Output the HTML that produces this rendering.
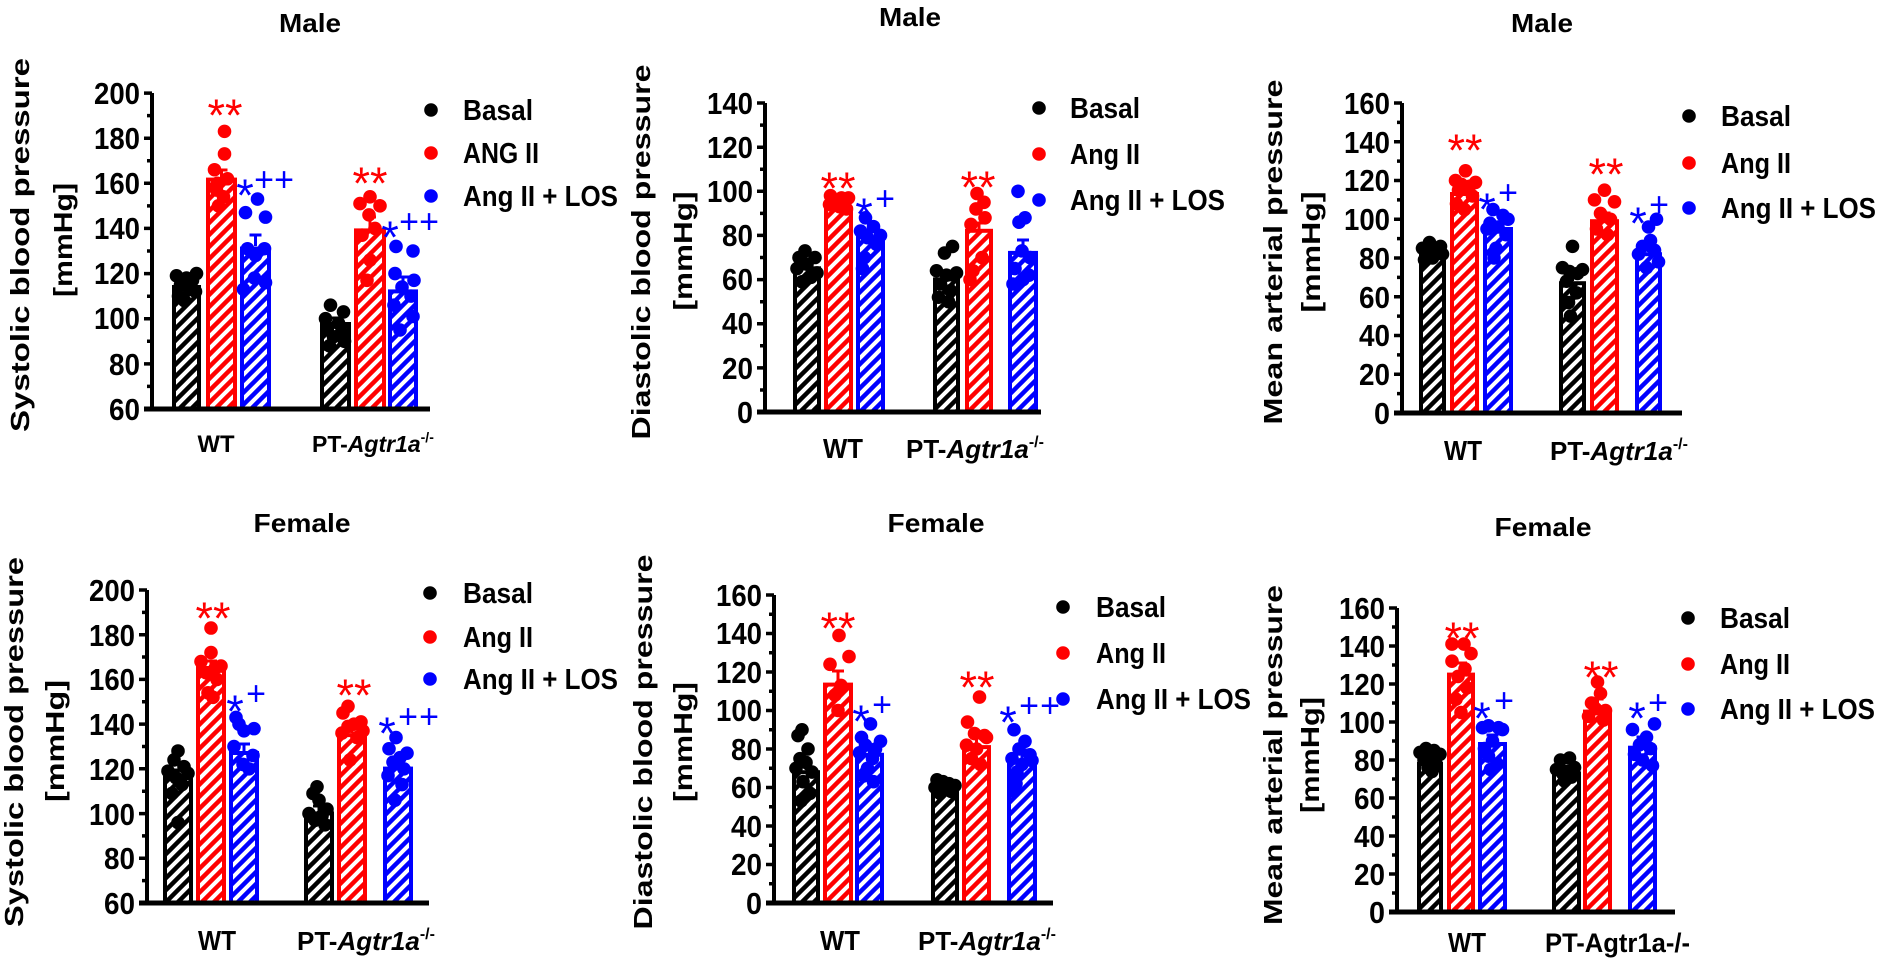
<!DOCTYPE html>
<html><head><meta charset="utf-8"><style>
html,body{margin:0;padding:0;background:#fff;}
svg{display:block;}
text{font-family:"Liberation Sans",Arial,sans-serif;font-weight:bold;fill:#000;}
.tk{font-size:31px;text-anchor:end;}
.lg{font-size:29px;}
.yl{font-size:26px;text-anchor:middle;}
.tt{font-size:26px;text-anchor:middle;}
.xl{font-size:26px;}
.st{font-size:45px;font-weight:normal;text-anchor:middle;}
.pl{font-size:34px;font-weight:normal;text-anchor:middle;}
</style></head><body>
<svg width="1900" height="963" viewBox="0 0 1900 963" xmlns="http://www.w3.org/2000/svg">
<defs>
<pattern id="hk" patternUnits="userSpaceOnUse" width="12" height="12"><rect width="12" height="12" fill="#fff"/><path d="M-3,3 L3,-3 M0,12 L12,0 M9,15 L15,9" stroke="#000" stroke-width="4.5"/></pattern>
<pattern id="hr" patternUnits="userSpaceOnUse" width="12" height="12"><rect width="12" height="12" fill="#fff"/><path d="M-3,3 L3,-3 M0,12 L12,0 M9,15 L15,9" stroke="#ff0000" stroke-width="4.5"/></pattern>
<pattern id="hb" patternUnits="userSpaceOnUse" width="12" height="12"><rect width="12" height="12" fill="#fff"/><path d="M-3,3 L3,-3 M0,12 L12,0 M9,15 L15,9" stroke="#0000ff" stroke-width="4.5"/></pattern>
</defs>

<!-- ================= BARS ================= -->
<g stroke-width="4">
<rect x="174" y="287" width="25" height="122" fill="url(#hk)" stroke="#000"/>
<rect x="208" y="179.6" width="27" height="229.4" fill="url(#hr)" stroke="#ff0000"/>
<rect x="242" y="248.5" width="27" height="160.5" fill="url(#hb)" stroke="#0000ff"/>
<rect x="322" y="324" width="27" height="85" fill="url(#hk)" stroke="#000"/>
<rect x="356" y="230.4" width="28" height="178.6" fill="url(#hr)" stroke="#ff0000"/>
<rect x="390" y="291.4" width="26" height="117.6" fill="url(#hb)" stroke="#0000ff"/>
<rect x="795" y="268.3" width="24" height="143.7" fill="url(#hk)" stroke="#000"/>
<rect x="826" y="208.7" width="25" height="203.3" fill="url(#hr)" stroke="#ff0000"/>
<rect x="858" y="237.4" width="25" height="174.6" fill="url(#hb)" stroke="#0000ff"/>
<rect x="935" y="279.4" width="23" height="132.6" fill="url(#hk)" stroke="#000"/>
<rect x="967" y="230.8" width="24" height="181.2" fill="url(#hr)" stroke="#ff0000"/>
<rect x="1010" y="252.9" width="26" height="159.1" fill="url(#hb)" stroke="#0000ff"/>
<rect x="1421" y="254.2" width="23" height="158.8" fill="url(#hk)" stroke="#000"/>
<rect x="1452" y="194" width="25" height="219" fill="url(#hr)" stroke="#ff0000"/>
<rect x="1485" y="229" width="26" height="184" fill="url(#hb)" stroke="#0000ff"/>
<rect x="1561" y="283.2" width="23" height="129.8" fill="url(#hk)" stroke="#000"/>
<rect x="1592" y="221.2" width="25" height="191.8" fill="url(#hr)" stroke="#ff0000"/>
<rect x="1637" y="254.2" width="23" height="158.8" fill="url(#hb)" stroke="#0000ff"/>
<rect x="165" y="777.6" width="26" height="125.4" fill="url(#hk)" stroke="#000"/>
<rect x="198" y="668" width="26" height="235" fill="url(#hr)" stroke="#ff0000"/>
<rect x="231" y="753" width="26" height="150" fill="url(#hb)" stroke="#0000ff"/>
<rect x="306" y="813.4" width="26" height="89.6" fill="url(#hk)" stroke="#000"/>
<rect x="339" y="735.1" width="26" height="167.9" fill="url(#hr)" stroke="#ff0000"/>
<rect x="385" y="768.6" width="26" height="134.4" fill="url(#hb)" stroke="#0000ff"/>
<rect x="794" y="772.2" width="24" height="130.8" fill="url(#hk)" stroke="#000"/>
<rect x="825" y="684.6" width="26" height="218.4" fill="url(#hr)" stroke="#ff0000"/>
<rect x="857" y="754.8" width="25" height="148.2" fill="url(#hb)" stroke="#0000ff"/>
<rect x="933" y="791.4" width="24" height="111.6" fill="url(#hk)" stroke="#000"/>
<rect x="964" y="747.1" width="25" height="155.9" fill="url(#hr)" stroke="#ff0000"/>
<rect x="1009" y="760.6" width="26" height="142.4" fill="url(#hb)" stroke="#0000ff"/>
<rect x="1419" y="763.9" width="22" height="148.1" fill="url(#hk)" stroke="#000"/>
<rect x="1449" y="674.6" width="24" height="237.4" fill="url(#hr)" stroke="#ff0000"/>
<rect x="1480" y="744" width="25" height="168" fill="url(#hb)" stroke="#0000ff"/>
<rect x="1554" y="773.4" width="25" height="138.6" fill="url(#hk)" stroke="#000"/>
<rect x="1585" y="711.6" width="25" height="200.4" fill="url(#hr)" stroke="#ff0000"/>
<rect x="1630" y="747.7" width="25" height="164.3" fill="url(#hb)" stroke="#0000ff"/>
</g>

<!-- ================= ERROR BARS ================= -->
<g fill="none" stroke-width="3">
<path stroke="#000" d="M186.5,285V281M180.5,281H192.5 M335.5,322V318M329.5,318H341.5 M807,266V264M801,264H813 M946.5,277V272M940.5,272H952.5 M1432.5,252V249M1426.5,249H1438.5 M1572.5,281V276M1566.5,276H1578.5 M178,776V770M172,770H184 M319,811V806M313,806H325 M806,770V763M800,763H812 M945,789V786M939,786H951 M1430,762V757M1424,757H1436 M1566.5,771V767M1560.5,767H1572.5"/>
<path stroke="#ff0000" d="M221.5,178V170M215.5,170H227.5 M370,228V217M364,217H376 M838.5,207V205M832.5,205H844.5 M979,229V223M973,223H985 M1464.5,192V185M1458.5,185H1470.5 M1604.5,219V213M1598.5,213H1610.5 M211,666V661M205,661H217 M352,733V727M346,727H358 M838,683V671M832,671H844 M976.5,745V738M970.5,738H982.5 M1461,673V663M1455,663H1467 M1597.5,710V699M1591.5,699H1603.5"/>
<path stroke="#0000ff" d="M255.5,246V235M249.5,235H261.5 M403,289V277M397,277H409 M870.5,235V230M864.5,230H876.5 M1023,251V240M1017,240H1029 M1498,227V222M1492,222H1504 M1648.5,252V246M1642.5,246H1654.5 M244,751V744M238,744H250 M398,767V760M392,760H404 M869.5,753V745M863.5,745H875.5 M1022,759V750M1016,750H1028 M1492.5,742V735M1486.5,735H1498.5 M1642.5,746V737M1636.5,737H1648.5"/>
</g>

<!-- ================= DOTS ================= -->
<g transform="matrix(1 0 0 -2.257 0 544.4)">
<g fill="#000">
<ellipse cx="176.5" cy="119" rx="6.8" ry="3.01"/><ellipse cx="196.5" cy="120" rx="6.8" ry="3.01"/><ellipse cx="186.5" cy="118" rx="6.8" ry="3.01"/><ellipse cx="192.5" cy="117" rx="6.8" ry="3.01"/><ellipse cx="180.5" cy="115" rx="6.8" ry="3.01"/><ellipse cx="189.5" cy="113" rx="6.8" ry="3.01"/><ellipse cx="178.5" cy="110" rx="6.8" ry="3.01"/><ellipse cx="184.5" cy="108" rx="6.8" ry="3.01"/><ellipse cx="195.5" cy="112" rx="6.8" ry="3.01"/>
<ellipse cx="330.5" cy="106" rx="6.8" ry="3.01"/><ellipse cx="343.5" cy="103" rx="6.8" ry="3.01"/><ellipse cx="325.5" cy="100" rx="6.8" ry="3.01"/><ellipse cx="338.5" cy="98" rx="6.8" ry="3.01"/><ellipse cx="327.5" cy="96" rx="6.8" ry="3.01"/><ellipse cx="341.5" cy="94" rx="6.8" ry="3.01"/><ellipse cx="333.5" cy="92" rx="6.8" ry="3.01"/><ellipse cx="344.5" cy="90" rx="6.8" ry="3.01"/><ellipse cx="329.5" cy="88" rx="6.8" ry="3.01"/>
</g>
<g fill="#ff0000">
<ellipse cx="224.5" cy="183" rx="6.8" ry="3.01"/><ellipse cx="224.5" cy="173" rx="6.8" ry="3.01"/><ellipse cx="214.5" cy="166" rx="6.8" ry="3.01"/><ellipse cx="227.5" cy="162" rx="6.8" ry="3.01"/><ellipse cx="217.5" cy="160" rx="6.8" ry="3.01"/><ellipse cx="216.5" cy="157" rx="6.8" ry="3.01"/><ellipse cx="223.5" cy="154" rx="6.8" ry="3.01"/><ellipse cx="218.5" cy="150" rx="6.8" ry="3.01"/>
<ellipse cx="370" cy="154" rx="6.8" ry="3.01"/><ellipse cx="360" cy="151" rx="6.8" ry="3.01"/><ellipse cx="380" cy="150" rx="6.8" ry="3.01"/><ellipse cx="369" cy="146" rx="6.8" ry="3.01"/><ellipse cx="375" cy="140" rx="6.8" ry="3.01"/><ellipse cx="362" cy="137" rx="6.8" ry="3.01"/><ellipse cx="370" cy="126" rx="6.8" ry="3.01"/><ellipse cx="367" cy="117" rx="6.8" ry="3.01"/>
</g>
<g fill="#0000ff">
<ellipse cx="257.5" cy="153" rx="6.8" ry="3.01"/><ellipse cx="245.5" cy="147" rx="6.8" ry="3.01"/><ellipse cx="265.5" cy="145" rx="6.8" ry="3.01"/><ellipse cx="247.5" cy="131" rx="6.8" ry="3.01"/><ellipse cx="264.5" cy="131" rx="6.8" ry="3.01"/><ellipse cx="255.5" cy="128" rx="6.8" ry="3.01"/><ellipse cx="254.5" cy="118" rx="6.8" ry="3.01"/><ellipse cx="265.5" cy="116" rx="6.8" ry="3.01"/><ellipse cx="243.5" cy="113" rx="6.8" ry="3.01"/>
<ellipse cx="396" cy="132" rx="6.8" ry="3.01"/><ellipse cx="413" cy="130" rx="6.8" ry="3.01"/><ellipse cx="395" cy="120" rx="6.8" ry="3.01"/><ellipse cx="414" cy="117" rx="6.8" ry="3.01"/><ellipse cx="402" cy="114" rx="6.8" ry="3.01"/><ellipse cx="411" cy="110" rx="6.8" ry="3.01"/><ellipse cx="394" cy="106" rx="6.8" ry="3.01"/><ellipse cx="413" cy="101" rx="6.8" ry="3.01"/><ellipse cx="400" cy="95" rx="6.8" ry="3.01"/>
</g>
</g>
<g transform="matrix(1 0 0 -2.207 0 412)">
<g fill="#000">
<ellipse cx="805" cy="73" rx="6.8" ry="3.08"/><ellipse cx="799" cy="70" rx="6.8" ry="3.08"/><ellipse cx="815" cy="70" rx="6.8" ry="3.08"/><ellipse cx="807" cy="67" rx="6.8" ry="3.08"/><ellipse cx="797" cy="65" rx="6.8" ry="3.08"/><ellipse cx="817" cy="63" rx="6.8" ry="3.08"/><ellipse cx="802" cy="59" rx="6.8" ry="3.08"/><ellipse cx="811" cy="61" rx="6.8" ry="3.08"/>
<ellipse cx="952.5" cy="75" rx="6.8" ry="3.08"/><ellipse cx="944.5" cy="72" rx="6.8" ry="3.08"/><ellipse cx="936.5" cy="64" rx="6.8" ry="3.08"/><ellipse cx="956.5" cy="63" rx="6.8" ry="3.08"/><ellipse cx="946.5" cy="62" rx="6.8" ry="3.08"/><ellipse cx="940.5" cy="58" rx="6.8" ry="3.08"/><ellipse cx="950.5" cy="55" rx="6.8" ry="3.08"/><ellipse cx="938.5" cy="52" rx="6.8" ry="3.08"/><ellipse cx="948.5" cy="50" rx="6.8" ry="3.08"/>
</g>
<g fill="#ff0000">
<ellipse cx="830.5" cy="98" rx="6.8" ry="3.08"/><ellipse cx="841.5" cy="97" rx="6.8" ry="3.08"/><ellipse cx="848.5" cy="97" rx="6.8" ry="3.08"/><ellipse cx="835.5" cy="96" rx="6.8" ry="3.08"/><ellipse cx="844.5" cy="95" rx="6.8" ry="3.08"/><ellipse cx="829.5" cy="94" rx="6.8" ry="3.08"/><ellipse cx="839.5" cy="93" rx="6.8" ry="3.08"/><ellipse cx="846.5" cy="92" rx="6.8" ry="3.08"/>
<ellipse cx="977" cy="99" rx="6.8" ry="3.08"/><ellipse cx="984" cy="95" rx="6.8" ry="3.08"/><ellipse cx="976" cy="92" rx="6.8" ry="3.08"/><ellipse cx="985" cy="88" rx="6.8" ry="3.08"/><ellipse cx="971" cy="85" rx="6.8" ry="3.08"/><ellipse cx="982" cy="70" rx="6.8" ry="3.08"/><ellipse cx="973" cy="64" rx="6.8" ry="3.08"/><ellipse cx="970" cy="60" rx="6.8" ry="3.08"/>
</g>
<g fill="#0000ff">
<ellipse cx="865.5" cy="88" rx="6.8" ry="3.08"/><ellipse cx="873.5" cy="84" rx="6.8" ry="3.08"/><ellipse cx="860.5" cy="82" rx="6.8" ry="3.08"/><ellipse cx="880.5" cy="80" rx="6.8" ry="3.08"/><ellipse cx="867.5" cy="79" rx="6.8" ry="3.08"/><ellipse cx="876.5" cy="76" rx="6.8" ry="3.08"/><ellipse cx="864.5" cy="70" rx="6.8" ry="3.08"/><ellipse cx="862.5" cy="65" rx="6.8" ry="3.08"/>
<ellipse cx="1018" cy="100" rx="6.8" ry="3.08"/><ellipse cx="1025" cy="88" rx="6.8" ry="3.08"/><ellipse cx="1019" cy="86" rx="6.8" ry="3.08"/><ellipse cx="1022" cy="73" rx="6.8" ry="3.08"/><ellipse cx="1030" cy="70" rx="6.8" ry="3.08"/><ellipse cx="1015" cy="65" rx="6.8" ry="3.08"/><ellipse cx="1029" cy="62" rx="6.8" ry="3.08"/><ellipse cx="1023" cy="60" rx="6.8" ry="3.08"/><ellipse cx="1013" cy="58" rx="6.8" ry="3.08"/>
</g>
</g>
<g transform="matrix(1 0 0 -1.9375 0 413)">
<g fill="#000">
<ellipse cx="1429.5" cy="88" rx="6.8" ry="3.51"/><ellipse cx="1440.5" cy="86" rx="6.8" ry="3.51"/><ellipse cx="1422.5" cy="85" rx="6.8" ry="3.51"/><ellipse cx="1436.5" cy="84" rx="6.8" ry="3.51"/><ellipse cx="1426.5" cy="83" rx="6.8" ry="3.51"/><ellipse cx="1442.5" cy="82" rx="6.8" ry="3.51"/><ellipse cx="1432.5" cy="80" rx="6.8" ry="3.51"/><ellipse cx="1424.5" cy="79" rx="6.8" ry="3.51"/>
<ellipse cx="1572.5" cy="86" rx="6.8" ry="3.51"/><ellipse cx="1562.5" cy="75" rx="6.8" ry="3.51"/><ellipse cx="1582.5" cy="74" rx="6.8" ry="3.51"/><ellipse cx="1569.5" cy="73" rx="6.8" ry="3.51"/><ellipse cx="1577.5" cy="72" rx="6.8" ry="3.51"/><ellipse cx="1566.5" cy="68" rx="6.8" ry="3.51"/><ellipse cx="1576.5" cy="62" rx="6.8" ry="3.51"/><ellipse cx="1568.5" cy="57" rx="6.8" ry="3.51"/><ellipse cx="1570.5" cy="50" rx="6.8" ry="3.51"/>
</g>
<g fill="#ff0000">
<ellipse cx="1465.5" cy="125" rx="6.8" ry="3.51"/><ellipse cx="1455.5" cy="120" rx="6.8" ry="3.51"/><ellipse cx="1475.5" cy="119" rx="6.8" ry="3.51"/><ellipse cx="1461.5" cy="118" rx="6.8" ry="3.51"/><ellipse cx="1469.5" cy="117" rx="6.8" ry="3.51"/><ellipse cx="1458.5" cy="115" rx="6.8" ry="3.51"/><ellipse cx="1472.5" cy="112" rx="6.8" ry="3.51"/><ellipse cx="1456.5" cy="108" rx="6.8" ry="3.51"/><ellipse cx="1464.5" cy="105" rx="6.8" ry="3.51"/>
<ellipse cx="1604.5" cy="115" rx="6.8" ry="3.51"/><ellipse cx="1594.5" cy="110" rx="6.8" ry="3.51"/><ellipse cx="1614.5" cy="109" rx="6.8" ry="3.51"/><ellipse cx="1600.5" cy="103" rx="6.8" ry="3.51"/><ellipse cx="1610.5" cy="100" rx="6.8" ry="3.51"/><ellipse cx="1596.5" cy="95" rx="6.8" ry="3.51"/><ellipse cx="1607.5" cy="92" rx="6.8" ry="3.51"/>
</g>
<g fill="#0000ff">
<ellipse cx="1493" cy="105" rx="6.8" ry="3.51"/><ellipse cx="1503" cy="102" rx="6.8" ry="3.51"/><ellipse cx="1508" cy="100" rx="6.8" ry="3.51"/><ellipse cx="1490" cy="98" rx="6.8" ry="3.51"/><ellipse cx="1498" cy="96" rx="6.8" ry="3.51"/><ellipse cx="1487" cy="95" rx="6.8" ry="3.51"/><ellipse cx="1506" cy="92" rx="6.8" ry="3.51"/><ellipse cx="1496" cy="85" rx="6.8" ry="3.51"/><ellipse cx="1494" cy="80" rx="6.8" ry="3.51"/>
<ellipse cx="1656.5" cy="100" rx="6.8" ry="3.51"/><ellipse cx="1648.5" cy="96" rx="6.8" ry="3.51"/><ellipse cx="1650.5" cy="89" rx="6.8" ry="3.51"/><ellipse cx="1642.5" cy="86" rx="6.8" ry="3.51"/><ellipse cx="1654.5" cy="84" rx="6.8" ry="3.51"/><ellipse cx="1638.5" cy="82" rx="6.8" ry="3.51"/><ellipse cx="1658.5" cy="78" rx="6.8" ry="3.51"/><ellipse cx="1646.5" cy="75" rx="6.8" ry="3.51"/>
</g>
</g>
<g transform="matrix(1 0 0 -2.236 0 1037.2)">
<g fill="#000">
<ellipse cx="178" cy="128" rx="6.8" ry="3.04"/><ellipse cx="174" cy="124" rx="6.8" ry="3.04"/><ellipse cx="184" cy="121" rx="6.8" ry="3.04"/><ellipse cx="168" cy="119" rx="6.8" ry="3.04"/><ellipse cx="188" cy="118" rx="6.8" ry="3.04"/><ellipse cx="176" cy="116" rx="6.8" ry="3.04"/><ellipse cx="182" cy="113" rx="6.8" ry="3.04"/><ellipse cx="172" cy="109" rx="6.8" ry="3.04"/><ellipse cx="178" cy="96" rx="6.8" ry="3.04"/>
<ellipse cx="317" cy="112" rx="6.8" ry="3.04"/><ellipse cx="313" cy="109" rx="6.8" ry="3.04"/><ellipse cx="319" cy="106" rx="6.8" ry="3.04"/><ellipse cx="327" cy="102" rx="6.8" ry="3.04"/><ellipse cx="309" cy="100" rx="6.8" ry="3.04"/><ellipse cx="322" cy="99" rx="6.8" ry="3.04"/><ellipse cx="315" cy="97" rx="6.8" ry="3.04"/><ellipse cx="325" cy="95" rx="6.8" ry="3.04"/>
</g>
<g fill="#ff0000">
<ellipse cx="211" cy="183" rx="6.8" ry="3.04"/><ellipse cx="211" cy="172" rx="6.8" ry="3.04"/><ellipse cx="201" cy="168" rx="6.8" ry="3.04"/><ellipse cx="221" cy="166" rx="6.8" ry="3.04"/><ellipse cx="215" cy="165" rx="6.8" ry="3.04"/><ellipse cx="206" cy="163" rx="6.8" ry="3.04"/><ellipse cx="217" cy="160" rx="6.8" ry="3.04"/><ellipse cx="208" cy="154" rx="6.8" ry="3.04"/><ellipse cx="213" cy="152" rx="6.8" ry="3.04"/>
<ellipse cx="348" cy="148" rx="6.8" ry="3.04"/><ellipse cx="343" cy="145" rx="6.8" ry="3.04"/><ellipse cx="361" cy="141" rx="6.8" ry="3.04"/><ellipse cx="354" cy="140" rx="6.8" ry="3.04"/><ellipse cx="348" cy="139" rx="6.8" ry="3.04"/><ellipse cx="363" cy="137" rx="6.8" ry="3.04"/><ellipse cx="342" cy="136" rx="6.8" ry="3.04"/><ellipse cx="357" cy="134" rx="6.8" ry="3.04"/><ellipse cx="350" cy="124" rx="6.8" ry="3.04"/>
</g>
<g fill="#0000ff">
<ellipse cx="236" cy="143" rx="6.8" ry="3.04"/><ellipse cx="239" cy="140" rx="6.8" ry="3.04"/><ellipse cx="254" cy="138" rx="6.8" ry="3.04"/><ellipse cx="244" cy="137" rx="6.8" ry="3.04"/><ellipse cx="234" cy="130" rx="6.8" ry="3.04"/><ellipse cx="253" cy="126" rx="6.8" ry="3.04"/><ellipse cx="243" cy="122" rx="6.8" ry="3.04"/><ellipse cx="249" cy="120" rx="6.8" ry="3.04"/>
<ellipse cx="396" cy="134" rx="6.8" ry="3.04"/><ellipse cx="389" cy="129" rx="6.8" ry="3.04"/><ellipse cx="407" cy="127" rx="6.8" ry="3.04"/><ellipse cx="400" cy="125" rx="6.8" ry="3.04"/><ellipse cx="393" cy="123" rx="6.8" ry="3.04"/><ellipse cx="404" cy="120" rx="6.8" ry="3.04"/><ellipse cx="388" cy="117" rx="6.8" ry="3.04"/><ellipse cx="402" cy="113" rx="6.8" ry="3.04"/><ellipse cx="395" cy="106" rx="6.8" ry="3.04"/>
</g>
</g>
<g transform="matrix(1 0 0 -1.925 0 903)">
<g fill="#000">
<ellipse cx="802" cy="90" rx="6.8" ry="3.53"/><ellipse cx="798" cy="87" rx="6.8" ry="3.53"/><ellipse cx="808" cy="80" rx="6.8" ry="3.53"/><ellipse cx="800" cy="75" rx="6.8" ry="3.53"/><ellipse cx="806" cy="73" rx="6.8" ry="3.53"/><ellipse cx="796" cy="70" rx="6.8" ry="3.53"/><ellipse cx="812" cy="68" rx="6.8" ry="3.53"/><ellipse cx="803" cy="63" rx="6.8" ry="3.53"/><ellipse cx="810" cy="57" rx="6.8" ry="3.53"/><ellipse cx="801" cy="53" rx="6.8" ry="3.53"/>
<ellipse cx="937" cy="64" rx="6.8" ry="3.53"/><ellipse cx="943" cy="63" rx="6.8" ry="3.53"/><ellipse cx="949" cy="62" rx="6.8" ry="3.53"/><ellipse cx="955" cy="61" rx="6.8" ry="3.53"/><ellipse cx="935" cy="60" rx="6.8" ry="3.53"/><ellipse cx="945" cy="59" rx="6.8" ry="3.53"/><ellipse cx="951" cy="58" rx="6.8" ry="3.53"/><ellipse cx="940" cy="57" rx="6.8" ry="3.53"/>
</g>
<g fill="#ff0000">
<ellipse cx="839" cy="139" rx="6.8" ry="3.53"/><ellipse cx="849" cy="128" rx="6.8" ry="3.53"/><ellipse cx="830" cy="124" rx="6.8" ry="3.53"/><ellipse cx="841" cy="113" rx="6.8" ry="3.53"/><ellipse cx="835" cy="108" rx="6.8" ry="3.53"/><ellipse cx="838" cy="100" rx="6.8" ry="3.53"/>
<ellipse cx="979.5" cy="107" rx="6.8" ry="3.53"/><ellipse cx="967.5" cy="94" rx="6.8" ry="3.53"/><ellipse cx="974.5" cy="88" rx="6.8" ry="3.53"/><ellipse cx="984.5" cy="87" rx="6.8" ry="3.53"/><ellipse cx="986.5" cy="86" rx="6.8" ry="3.53"/><ellipse cx="966.5" cy="82" rx="6.8" ry="3.53"/><ellipse cx="976.5" cy="80" rx="6.8" ry="3.53"/><ellipse cx="971.5" cy="75" rx="6.8" ry="3.53"/><ellipse cx="980.5" cy="72" rx="6.8" ry="3.53"/>
</g>
<g fill="#0000ff">
<ellipse cx="870.5" cy="93" rx="6.8" ry="3.53"/><ellipse cx="861.5" cy="86" rx="6.8" ry="3.53"/><ellipse cx="880.5" cy="84" rx="6.8" ry="3.53"/><ellipse cx="865.5" cy="82" rx="6.8" ry="3.53"/><ellipse cx="875.5" cy="80" rx="6.8" ry="3.53"/><ellipse cx="859.5" cy="78" rx="6.8" ry="3.53"/><ellipse cx="872.5" cy="75" rx="6.8" ry="3.53"/><ellipse cx="867.5" cy="70" rx="6.8" ry="3.53"/><ellipse cx="863.5" cy="66" rx="6.8" ry="3.53"/><ellipse cx="873.5" cy="63" rx="6.8" ry="3.53"/>
<ellipse cx="1014" cy="90" rx="6.8" ry="3.53"/><ellipse cx="1025" cy="84" rx="6.8" ry="3.53"/><ellipse cx="1019" cy="80" rx="6.8" ry="3.53"/><ellipse cx="1030" cy="77" rx="6.8" ry="3.53"/><ellipse cx="1012" cy="75" rx="6.8" ry="3.53"/><ellipse cx="1032" cy="74" rx="6.8" ry="3.53"/><ellipse cx="1022" cy="72" rx="6.8" ry="3.53"/><ellipse cx="1017" cy="68" rx="6.8" ry="3.53"/><ellipse cx="1016" cy="62" rx="6.8" ry="3.53"/><ellipse cx="1014" cy="58" rx="6.8" ry="3.53"/>
</g>
</g>
<g transform="matrix(1 0 0 -1.9 0 912)">
<g fill="#000">
<ellipse cx="1426" cy="86" rx="6.8" ry="3.58"/><ellipse cx="1434" cy="85" rx="6.8" ry="3.58"/><ellipse cx="1420" cy="84" rx="6.8" ry="3.58"/><ellipse cx="1440" cy="83" rx="6.8" ry="3.58"/><ellipse cx="1430" cy="82" rx="6.8" ry="3.58"/><ellipse cx="1424" cy="80" rx="6.8" ry="3.58"/><ellipse cx="1436" cy="78" rx="6.8" ry="3.58"/><ellipse cx="1428" cy="76" rx="6.8" ry="3.58"/><ellipse cx="1432" cy="74" rx="6.8" ry="3.58"/>
<ellipse cx="1569.5" cy="81" rx="6.8" ry="3.58"/><ellipse cx="1560.5" cy="80" rx="6.8" ry="3.58"/><ellipse cx="1574.5" cy="76" rx="6.8" ry="3.58"/><ellipse cx="1556.5" cy="75" rx="6.8" ry="3.58"/><ellipse cx="1566.5" cy="74" rx="6.8" ry="3.58"/><ellipse cx="1562.5" cy="73" rx="6.8" ry="3.58"/><ellipse cx="1571.5" cy="71" rx="6.8" ry="3.58"/><ellipse cx="1564.5" cy="69" rx="6.8" ry="3.58"/>
</g>
<g fill="#ff0000">
<ellipse cx="1452" cy="141" rx="6.8" ry="3.58"/><ellipse cx="1464" cy="141" rx="6.8" ry="3.58"/><ellipse cx="1471" cy="136" rx="6.8" ry="3.58"/><ellipse cx="1452" cy="132" rx="6.8" ry="3.58"/><ellipse cx="1465" cy="128" rx="6.8" ry="3.58"/><ellipse cx="1458" cy="124" rx="6.8" ry="3.58"/><ellipse cx="1467" cy="118" rx="6.8" ry="3.58"/><ellipse cx="1456" cy="112" rx="6.8" ry="3.58"/><ellipse cx="1461" cy="105" rx="6.8" ry="3.58"/>
<ellipse cx="1597.5" cy="121" rx="6.8" ry="3.58"/><ellipse cx="1600.5" cy="115" rx="6.8" ry="3.58"/><ellipse cx="1591.5" cy="110" rx="6.8" ry="3.58"/><ellipse cx="1595.5" cy="107" rx="6.8" ry="3.58"/><ellipse cx="1605.5" cy="106" rx="6.8" ry="3.58"/><ellipse cx="1588.5" cy="103" rx="6.8" ry="3.58"/><ellipse cx="1603.5" cy="101" rx="6.8" ry="3.58"/>
</g>
<g fill="#0000ff">
<ellipse cx="1488.5" cy="98" rx="6.8" ry="3.58"/><ellipse cx="1498.5" cy="97" rx="6.8" ry="3.58"/><ellipse cx="1482.5" cy="97" rx="6.8" ry="3.58"/><ellipse cx="1502.5" cy="96" rx="6.8" ry="3.58"/><ellipse cx="1492.5" cy="90" rx="6.8" ry="3.58"/><ellipse cx="1484.5" cy="86" rx="6.8" ry="3.58"/><ellipse cx="1488.5" cy="82" rx="6.8" ry="3.58"/><ellipse cx="1497.5" cy="78" rx="6.8" ry="3.58"/><ellipse cx="1490.5" cy="75" rx="6.8" ry="3.58"/>
<ellipse cx="1654.5" cy="99" rx="6.8" ry="3.58"/><ellipse cx="1632.5" cy="96" rx="6.8" ry="3.58"/><ellipse cx="1646.5" cy="92" rx="6.8" ry="3.58"/><ellipse cx="1639.5" cy="88" rx="6.8" ry="3.58"/><ellipse cx="1650.5" cy="86" rx="6.8" ry="3.58"/><ellipse cx="1634.5" cy="83" rx="6.8" ry="3.58"/><ellipse cx="1642.5" cy="80" rx="6.8" ry="3.58"/><ellipse cx="1652.5" cy="77" rx="6.8" ry="3.58"/>
</g>
</g>

<!-- ================= AXES ================= -->
<g stroke="#000" fill="none">
<path stroke-width="4" d="M152,93V409 M765,103V412 M1402,103V413 M147,590V903 M774,595V903 M1397,608V912"/>
<path stroke-width="5" d="M144,409H430 M757,412H1041 M1394,413H1682 M139,903H429 M766,903H1053 M1389,912H1675"/>
<path stroke-width="3.5" d="M144,93.1H152M144,138.2H152M144,183.3H152M144,228.4H152M144,273.6H152M144,318.7H152M144,363.9H152
M147,386.4H152M147,341.3H152M147,296.2H152M147,251H152M147,205.9H152M147,160.7H152M147,115.6H152
M757,103H765M757,147.2H765M757,191.3H765M757,235.4H765M757,279.6H765M757,323.7H765M757,367.9H765
M760,390H765M760,345.8H765M760,301.7H765M760,257.5H765M760,213.4H765M760,169.3H765M760,125.1H765
M1394,103H1402M1394,141.75H1402M1394,180.5H1402M1394,219.25H1402M1394,258H1402M1394,296.75H1402M1394,335.5H1402M1394,374.25H1402
M1397,393.6H1402M1397,354.9H1402M1397,316.1H1402M1397,277.4H1402M1397,238.6H1402M1397,199.9H1402M1397,161.1H1402M1397,122.4H1402
M139,590H147M139,634.7H147M139,679.4H147M139,724.1H147M139,768.8H147M139,813.6H147M139,858.3H147
M142,880.6H147M142,835.9H147M142,791.2H147M142,746.5H147M142,701.7H147M142,657H147M142,612.4H147
M766,595H774M766,633.5H774M766,672H774M766,710.5H774M766,749H774M766,787.5H774M766,826H774M766,864.5H774
M769,883.8H774M769,845.3H774M769,806.8H774M769,768.3H774M769,729.8H774M769,691.3H774M769,652.8H774M769,614.3H774
M1389,608H1397M1389,646H1397M1389,684H1397M1389,722H1397M1389,760H1397M1389,798H1397M1389,836H1397M1389,874H1397
M1392,893H1397M1392,855H1397M1392,817H1397M1392,779H1397M1392,741H1397M1392,703H1397M1392,665H1397M1392,627H1397"/>
</g>

<!-- ================= TICK LABELS ================= -->
<g class="tk">
<text x="140" y="104" textLength="46" lengthAdjust="spacingAndGlyphs">200</text><text x="140" y="149" textLength="46" lengthAdjust="spacingAndGlyphs">180</text><text x="140" y="194" textLength="46" lengthAdjust="spacingAndGlyphs">160</text><text x="140" y="239" textLength="46" lengthAdjust="spacingAndGlyphs">140</text><text x="140" y="284" textLength="46" lengthAdjust="spacingAndGlyphs">120</text><text x="140" y="329" textLength="46" lengthAdjust="spacingAndGlyphs">100</text><text x="140" y="375" textLength="31" lengthAdjust="spacingAndGlyphs">80</text><text x="140" y="420" textLength="31" lengthAdjust="spacingAndGlyphs">60</text>
<text x="753" y="114" textLength="46" lengthAdjust="spacingAndGlyphs">140</text><text x="753" y="158" textLength="46" lengthAdjust="spacingAndGlyphs">120</text><text x="753" y="202" textLength="46" lengthAdjust="spacingAndGlyphs">100</text><text x="753" y="246" textLength="31" lengthAdjust="spacingAndGlyphs">80</text><text x="753" y="290" textLength="31" lengthAdjust="spacingAndGlyphs">60</text><text x="753" y="334" textLength="31" lengthAdjust="spacingAndGlyphs">40</text><text x="753" y="379" textLength="31" lengthAdjust="spacingAndGlyphs">20</text><text x="753" y="423" textLength="16" lengthAdjust="spacingAndGlyphs">0</text>
<text x="1390" y="114" textLength="46" lengthAdjust="spacingAndGlyphs">160</text><text x="1390" y="153" textLength="46" lengthAdjust="spacingAndGlyphs">140</text><text x="1390" y="191" textLength="46" lengthAdjust="spacingAndGlyphs">120</text><text x="1390" y="230" textLength="46" lengthAdjust="spacingAndGlyphs">100</text><text x="1390" y="269" textLength="31" lengthAdjust="spacingAndGlyphs">80</text><text x="1390" y="308" textLength="31" lengthAdjust="spacingAndGlyphs">60</text><text x="1390" y="346" textLength="31" lengthAdjust="spacingAndGlyphs">40</text><text x="1390" y="385" textLength="31" lengthAdjust="spacingAndGlyphs">20</text><text x="1390" y="424" textLength="16" lengthAdjust="spacingAndGlyphs">0</text>
<text x="135" y="601" textLength="46" lengthAdjust="spacingAndGlyphs">200</text><text x="135" y="646" textLength="46" lengthAdjust="spacingAndGlyphs">180</text><text x="135" y="690" textLength="46" lengthAdjust="spacingAndGlyphs">160</text><text x="135" y="735" textLength="46" lengthAdjust="spacingAndGlyphs">140</text><text x="135" y="780" textLength="46" lengthAdjust="spacingAndGlyphs">120</text><text x="135" y="825" textLength="46" lengthAdjust="spacingAndGlyphs">100</text><text x="135" y="869" textLength="31" lengthAdjust="spacingAndGlyphs">80</text><text x="135" y="914" textLength="31" lengthAdjust="spacingAndGlyphs">60</text>
<text x="762" y="606" textLength="46" lengthAdjust="spacingAndGlyphs">160</text><text x="762" y="644" textLength="46" lengthAdjust="spacingAndGlyphs">140</text><text x="762" y="683" textLength="46" lengthAdjust="spacingAndGlyphs">120</text><text x="762" y="721" textLength="46" lengthAdjust="spacingAndGlyphs">100</text><text x="762" y="760" textLength="31" lengthAdjust="spacingAndGlyphs">80</text><text x="762" y="798" textLength="31" lengthAdjust="spacingAndGlyphs">60</text><text x="762" y="837" textLength="31" lengthAdjust="spacingAndGlyphs">40</text><text x="762" y="875" textLength="31" lengthAdjust="spacingAndGlyphs">20</text><text x="762" y="914" textLength="16" lengthAdjust="spacingAndGlyphs">0</text>
<text x="1385" y="619" textLength="46" lengthAdjust="spacingAndGlyphs">160</text><text x="1385" y="657" textLength="46" lengthAdjust="spacingAndGlyphs">140</text><text x="1385" y="695" textLength="46" lengthAdjust="spacingAndGlyphs">120</text><text x="1385" y="733" textLength="46" lengthAdjust="spacingAndGlyphs">100</text><text x="1385" y="771" textLength="31" lengthAdjust="spacingAndGlyphs">80</text><text x="1385" y="809" textLength="31" lengthAdjust="spacingAndGlyphs">60</text><text x="1385" y="847" textLength="31" lengthAdjust="spacingAndGlyphs">40</text><text x="1385" y="885" textLength="31" lengthAdjust="spacingAndGlyphs">20</text><text x="1385" y="923" textLength="16" lengthAdjust="spacingAndGlyphs">0</text>
</g>

<!-- ================= TITLES ================= -->
<text class="tt" x="310" y="32" textLength="62" lengthAdjust="spacingAndGlyphs">Male</text>
<text class="tt" x="910" y="26" textLength="62" lengthAdjust="spacingAndGlyphs">Male</text>
<text class="tt" x="1542" y="32" textLength="62" lengthAdjust="spacingAndGlyphs">Male</text>
<text class="tt" x="302" y="532" textLength="97" lengthAdjust="spacingAndGlyphs">Female</text>
<text class="tt" x="936" y="532" textLength="97" lengthAdjust="spacingAndGlyphs">Female</text>
<text class="tt" x="1543" y="536" textLength="97" lengthAdjust="spacingAndGlyphs">Female</text>

<!-- ================= Y LABELS ================= -->
<text class="yl" transform="translate(29,245) rotate(-90)" textLength="374" lengthAdjust="spacingAndGlyphs">Systolic blood pressure</text>
<text class="yl" transform="translate(72,240) rotate(-90)" textLength="114" lengthAdjust="spacingAndGlyphs">[mmHg]</text>
<text class="yl" transform="translate(650,252) rotate(-90)" textLength="375" lengthAdjust="spacingAndGlyphs">Diastolic blood pressure</text>
<text class="yl" transform="translate(692,251) rotate(-90)" textLength="119" lengthAdjust="spacingAndGlyphs">[mmHg]</text>
<text class="yl" transform="translate(1282,252) rotate(-90)" textLength="345" lengthAdjust="spacingAndGlyphs">Mean arterial pressure</text>
<text class="yl" transform="translate(1320,252) rotate(-90)" textLength="121" lengthAdjust="spacingAndGlyphs">[mmHg]</text>
<text class="yl" transform="translate(23,742) rotate(-90)" textLength="370" lengthAdjust="spacingAndGlyphs">Systolic blood pressure</text>
<text class="yl" transform="translate(64,741) rotate(-90)" textLength="122" lengthAdjust="spacingAndGlyphs">[mmHg]</text>
<text class="yl" transform="translate(652,742) rotate(-90)" textLength="375" lengthAdjust="spacingAndGlyphs">Diastolic blood pressure</text>
<text class="yl" transform="translate(692,742) rotate(-90)" textLength="120" lengthAdjust="spacingAndGlyphs">[mmHg]</text>
<text class="yl" transform="translate(1282,755) rotate(-90)" textLength="340" lengthAdjust="spacingAndGlyphs">Mean arterial pressure</text>
<text class="yl" transform="translate(1319,755) rotate(-90)" textLength="116" lengthAdjust="spacingAndGlyphs">[mmHg]</text>

<!-- ================= X LABELS ================= -->
<text class="xl" x="216" y="452" text-anchor="middle" style="font-size:24px" textLength="37" lengthAdjust="spacingAndGlyphs">WT</text>
<text class="xl" x="312" y="452" style="font-size:23px">PT-<tspan font-style="italic">Agtr1a</tspan><tspan font-size="14" dy="-10">-/-</tspan></text>
<text class="xl" x="843" y="458" text-anchor="middle" style="font-size:28px" textLength="40" lengthAdjust="spacingAndGlyphs">WT</text>
<text class="xl" x="906" y="458">PT-<tspan font-style="italic">Agtr1a</tspan><tspan font-size="16" dy="-11">-/-</tspan></text>
<text class="xl" x="1463" y="460" text-anchor="middle" style="font-size:28px" textLength="38" lengthAdjust="spacingAndGlyphs">WT</text>
<text class="xl" x="1550" y="460">PT-<tspan font-style="italic">Agtr1a</tspan><tspan font-size="16" dy="-11">-/-</tspan></text>
<text class="xl" x="217" y="950" text-anchor="middle" style="font-size:28px" textLength="38" lengthAdjust="spacingAndGlyphs">WT</text>
<text class="xl" x="297" y="950">PT-<tspan font-style="italic">Agtr1a</tspan><tspan font-size="16" dy="-11">-/-</tspan></text>
<text class="xl" x="840" y="950" text-anchor="middle" style="font-size:28px" textLength="40" lengthAdjust="spacingAndGlyphs">WT</text>
<text class="xl" x="918" y="950">PT-<tspan font-style="italic">Agtr1a</tspan><tspan font-size="16" dy="-11">-/-</tspan></text>
<text class="xl" x="1467" y="952" text-anchor="middle" style="font-size:28px" textLength="38" lengthAdjust="spacingAndGlyphs">WT</text>
<text class="xl" x="1545" y="952" style="font-size:27px" textLength="145" lengthAdjust="spacingAndGlyphs">PT-Agtr1a-/-</text>

<!-- ================= LEGENDS ================= -->
<g>
<circle cx="431" cy="110" r="6.8" fill="#000"/><circle cx="431" cy="153" r="6.8" fill="#ff0000"/><circle cx="431" cy="196" r="6.8" fill="#0000ff"/>
<text class="lg" x="463" y="120" textLength="70" lengthAdjust="spacingAndGlyphs">Basal</text><text class="lg" x="463" y="163" textLength="76" lengthAdjust="spacingAndGlyphs">ANG II</text><text class="lg" x="463" y="206" textLength="155" lengthAdjust="spacingAndGlyphs">Ang II + LOS</text>
<circle cx="1039" cy="108" r="6.8" fill="#000"/><circle cx="1039" cy="154" r="6.8" fill="#ff0000"/><circle cx="1039" cy="200" r="6.8" fill="#0000ff"/>
<text class="lg" x="1070" y="118" textLength="70" lengthAdjust="spacingAndGlyphs">Basal</text><text class="lg" x="1070" y="164" textLength="70" lengthAdjust="spacingAndGlyphs">Ang II</text><text class="lg" x="1070" y="210" textLength="155" lengthAdjust="spacingAndGlyphs">Ang II + LOS</text>
<circle cx="1689" cy="116" r="6.8" fill="#000"/><circle cx="1689" cy="163" r="6.8" fill="#ff0000"/><circle cx="1689" cy="208" r="6.8" fill="#0000ff"/>
<text class="lg" x="1721" y="126" textLength="70" lengthAdjust="spacingAndGlyphs">Basal</text><text class="lg" x="1721" y="173" textLength="70" lengthAdjust="spacingAndGlyphs">Ang II</text><text class="lg" x="1721" y="218" textLength="155" lengthAdjust="spacingAndGlyphs">Ang II + LOS</text>
<circle cx="430" cy="593" r="6.8" fill="#000"/><circle cx="430" cy="637" r="6.8" fill="#ff0000"/><circle cx="430" cy="679" r="6.8" fill="#0000ff"/>
<text class="lg" x="463" y="603" textLength="70" lengthAdjust="spacingAndGlyphs">Basal</text><text class="lg" x="463" y="647" textLength="70" lengthAdjust="spacingAndGlyphs">Ang II</text><text class="lg" x="463" y="689" textLength="155" lengthAdjust="spacingAndGlyphs">Ang II + LOS</text>
<circle cx="1063" cy="607" r="6.8" fill="#000"/><circle cx="1063" cy="653" r="6.8" fill="#ff0000"/><circle cx="1063" cy="699" r="6.8" fill="#0000ff"/>
<text class="lg" x="1096" y="617" textLength="70" lengthAdjust="spacingAndGlyphs">Basal</text><text class="lg" x="1096" y="663" textLength="70" lengthAdjust="spacingAndGlyphs">Ang II</text><text class="lg" x="1096" y="709" textLength="155" lengthAdjust="spacingAndGlyphs">Ang II + LOS</text>
<circle cx="1688" cy="618" r="6.8" fill="#000"/><circle cx="1688" cy="664" r="6.8" fill="#ff0000"/><circle cx="1688" cy="709" r="6.8" fill="#0000ff"/>
<text class="lg" x="1720" y="628" textLength="70" lengthAdjust="spacingAndGlyphs">Basal</text><text class="lg" x="1720" y="674" textLength="70" lengthAdjust="spacingAndGlyphs">Ang II</text><text class="lg" x="1720" y="719" textLength="155" lengthAdjust="spacingAndGlyphs">Ang II + LOS</text>
</g>

<!-- ================= SIGNIFICANCE MARKERS ================= -->
<g>
<text class="st" style="fill:#ff0000" x="225" y="131">**</text>
<text class="st" style="fill:#ff0000" x="370" y="199">**</text>
<text class="st" style="fill:#ff0000" x="838" y="204">**</text>
<text class="st" style="fill:#ff0000" x="978" y="203">**</text>
<text class="st" style="fill:#ff0000" x="1465" y="166">**</text>
<text class="st" style="fill:#ff0000" x="1606" y="190">**</text>
<text class="st" style="fill:#ff0000" x="213" y="634">**</text>
<text class="st" style="fill:#ff0000" x="354" y="711">**</text>
<text class="st" style="fill:#ff0000" x="838" y="644">**</text>
<text class="st" style="fill:#ff0000" x="977" y="703">**</text>
<text class="st" style="fill:#ff0000" x="1462" y="654">**</text>
<text class="st" style="fill:#ff0000" x="1601" y="693">**</text>
</g>
<g>
<text class="st" style="fill:#0000ff" x="245" y="211">*</text><text class="pl" style="fill:#0000ff" x="264" y="191">+</text><text class="pl" style="fill:#0000ff" x="284" y="191">+</text>
<text class="st" style="fill:#0000ff" x="390" y="253">*</text><text class="pl" style="fill:#0000ff" x="409" y="233">+</text><text class="pl" style="fill:#0000ff" x="429" y="233">+</text>
<text class="st" style="fill:#0000ff" x="864" y="230">*</text><text class="pl" style="fill:#0000ff" x="885" y="210">+</text>
<text class="st" style="fill:#0000ff" x="1487" y="225">*</text><text class="pl" style="fill:#0000ff" x="1508" y="204">+</text>
<text class="st" style="fill:#0000ff" x="1638" y="239">*</text><text class="pl" style="fill:#0000ff" x="1659" y="216">+</text>
<text class="st" style="fill:#0000ff" x="235" y="727">*</text><text class="pl" style="fill:#0000ff" x="256" y="705">+</text>
<text class="st" style="fill:#0000ff" x="387" y="749">*</text><text class="pl" style="fill:#0000ff" x="408" y="728">+</text><text class="pl" style="fill:#0000ff" x="429" y="728">+</text>
<text class="st" style="fill:#0000ff" x="861" y="737">*</text><text class="pl" style="fill:#0000ff" x="882" y="716">+</text>
<text class="st" style="fill:#0000ff" x="1008" y="738">*</text><text class="pl" style="fill:#0000ff" x="1029" y="717">+</text><text class="pl" style="fill:#0000ff" x="1050" y="717">+</text>
<text class="st" style="fill:#0000ff" x="1482" y="734">*</text><text class="pl" style="fill:#0000ff" x="1504" y="712">+</text>
<text class="st" style="fill:#0000ff" x="1637" y="734">*</text><text class="pl" style="fill:#0000ff" x="1658" y="714">+</text>
</g>
</svg>
</body></html>
